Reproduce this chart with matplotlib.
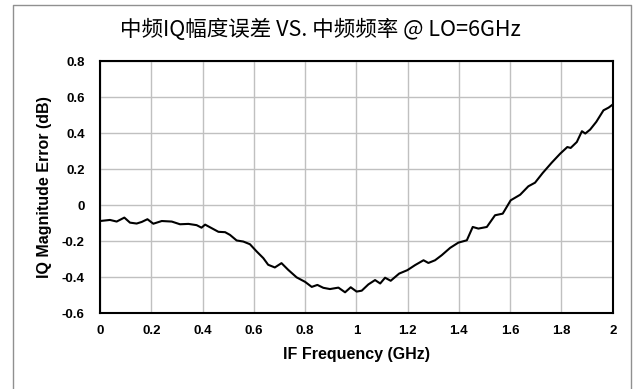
import matplotlib.pyplot as plt
from matplotlib.lines import Line2D

plt.rcParams['font.family'] = ['Liberation Sans', 'DejaVu Sans']

# IF frequency (GHz) and IQ magnitude error (dB)
freq = [0.0, 0.039, 0.065, 0.095, 0.117, 0.143, 0.163, 0.185, 0.208, 0.241, 0.28,
        0.312, 0.345, 0.377, 0.396, 0.41, 0.436, 0.462, 0.488, 0.507, 0.533, 0.559,
        0.585, 0.611, 0.637, 0.656, 0.682, 0.708, 0.734, 0.767, 0.8, 0.826, 0.848,
        0.871, 0.897, 0.93, 0.956, 0.978, 1.001, 1.021, 1.047, 1.073, 1.093, 1.112,
        1.134, 1.167, 1.199, 1.229, 1.262, 1.281, 1.307, 1.333, 1.366, 1.398, 1.431,
        1.454, 1.476, 1.509, 1.541, 1.571, 1.602, 1.639, 1.671, 1.697, 1.727, 1.762,
        1.795, 1.823, 1.836, 1.86, 1.88, 1.893, 1.912, 1.936, 1.964, 1.984, 2.0]
err = [-0.089, -0.083, -0.092, -0.07, -0.098, -0.103, -0.094, -0.079, -0.104, -0.089,
       -0.092, -0.107, -0.105, -0.112, -0.126, -0.109, -0.129, -0.149, -0.151, -0.166,
       -0.197, -0.203, -0.218, -0.258, -0.295, -0.332, -0.347, -0.323, -0.36, -0.402,
       -0.427, -0.455, -0.444, -0.46, -0.467, -0.459, -0.485, -0.457, -0.481, -0.476,
       -0.441, -0.417, -0.436, -0.404, -0.421, -0.381, -0.362, -0.334, -0.307, -0.322,
       -0.307, -0.279, -0.238, -0.209, -0.196, -0.122, -0.131, -0.122, -0.057, -0.048,
       0.026, 0.057, 0.104, 0.124, 0.178, 0.235, 0.285, 0.322, 0.317, 0.35, 0.41,
       0.397, 0.419, 0.462, 0.526, 0.541, 0.558]

xticks = [0, 0.2, 0.4, 0.6, 0.8, 1, 1.2, 1.4, 1.6, 1.8, 2]
xticklabels = ['0', '0.2', '0.4', '0.6', '0.8', '1', '1.2', '1.4', '1.6', '1.8', '2']
yticks = [-0.6, -0.4, -0.2, 0, 0.2, 0.4, 0.6, 0.8]
yticklabels = ['-0.6', '-0.4', '-0.2', '0', '0.2', '0.4', '0.6', '0.8']

fig = plt.figure(figsize=(6.4, 3.89), dpi=100)
ax = fig.add_axes([100/640, 1-313/389, 512.7/640, 252/389])

ax.plot(freq, err, color='black', lw=1.5)
ax.set_xlim(0, 2)
ax.set_ylim(-0.6, 0.8)
ax.set_xticks(xticks)
ax.set_xticklabels(xticklabels, fontsize=9.5, fontweight='bold')
ax.set_yticks(yticks)
ax.set_yticklabels(yticklabels, fontsize=9.5, fontweight='bold')
ax.tick_params(axis='x', length=0, pad=9)
ax.tick_params(axis='y', length=0, pad=11)
ax.grid(True, color='#c0c0c0', lw=1)
ax.set_axisbelow(True)
for s in ax.spines.values():
    s.set_linewidth(1.5)

ax.set_xlabel('IF Frequency (GHz)', fontsize=11.5, fontweight='bold', labelpad=7)
ax.set_ylabel('IQ Magnitude Error (dB)', fontsize=11.5, fontweight='bold', labelpad=7)

fig.text(0.5, 1-30/389, '中频IQ幅度误差 VS. 中频频率 @ LO=6GHz', ha='center', va='center',
         fontsize=15.5, family=['Noto Sans CJK SC', 'DejaVu Sans'])

# outer gray frame
fx = [13/640, 13/640, 631/640, 631/640]
fy = [0, 1-4.5/389, 1-4.5/389, 0]
fig.add_artist(Line2D(fx, fy, color='#909090', lw=1, transform=fig.transFigure))

fig.savefig('out.png', dpi=100)
